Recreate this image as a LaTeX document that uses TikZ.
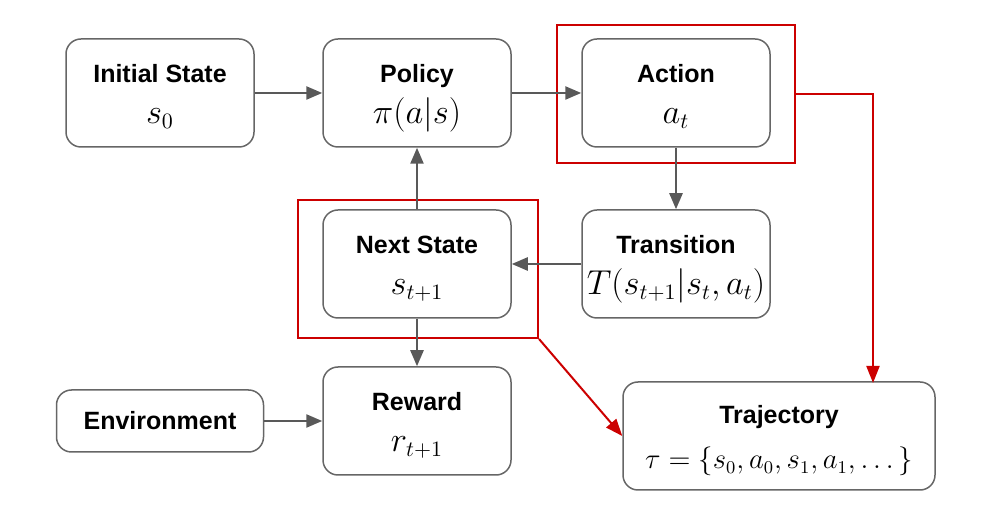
\documentclass[tikz,border=0pt]{standalone}
\usepackage[no-math]{fontspec}
\usepackage{amsmath}
\usetikzlibrary{arrows.meta,positioning}
\newfontfamily\arialfont{Liberation Sans}
\definecolor{boxgray}{HTML}{666666}
\definecolor{arrowgray}{HTML}{595959}
\definecolor{framered}{HTML}{CC0000}
\newcommand{\boxtitle}[1]{{\arialfont\bfseries\fontsize{12.5}{15}\selectfont\rule{0pt}{14pt}#1}}
\newcommand{\boxmath}[1]{{\fontsize{16}{19}\selectfont $\vphantom{()}#1$}}

\begin{document}
\begin{tikzpicture}[x=0.5pt, y=-0.5pt,
    box/.style={draw=boxgray, line width=0.75pt, rounded corners=7.5pt,
        minimum width=94pt, minimum height=54pt, align=center, inner sep=0pt,
        font=\fontsize{12.5}{20.5}\selectfont},
    graylink/.style={draw=arrowgray, line width=1.2pt,
        -{Triangle[length=8pt, width=6.5pt]}},
    redframe/.style={draw=framered, line width=1pt, minimum width=119pt,
        minimum height=69pt, inner sep=0pt},
    redlink/.style={draw=framered, line width=1pt,
        -{Triangle[length=8.5pt, width=6.5pt]}}]
    \useasboundingbox (0,0) rectangle (989,506);
    %%Top row
    \node[box] (init) at (160,93) {\boxtitle{Initial State}\\\boxmath{s_0}};
    \node[box] (policy) at (417,93) {\boxtitle{Policy}\\\boxmath{\pi(a|s)}};
    \node[box] (action) at (676,93) {\boxtitle{Action}\\\boxmath{a_t}};
    %%Middle row
    \node[box] (next) at (417,264) {\boxtitle{Next State}\\\boxmath{s_{t+1}}};
    \node[box] (trans) at (676,264) {\boxtitle{Transition}\\\boxmath{T(s_{t+1}|s_t,a_t)}};
    %%Bottom row
    \node[box, minimum width=103.5pt, minimum height=31pt] (env) at (160,421)
        {{\arialfont\bfseries Environment}};
    \node[box] (reward) at (417,421) {\boxtitle{Reward}\\\boxmath{r_{t+1}}};
    \node[box, minimum width=156pt, font=\fontsize{12.5}{22.5}\selectfont] (traj) at (779,436)
        {\boxtitle{Trajectory}\\{\fontsize{13.5}{16}\selectfont
        $\tau=\{s_0,a_0,s_1,a_1,\dots\}$}};
    %%Red frames
    \node[redframe] (actionframe) at (676,94) {};
    \node[redframe, minimum width=120pt] (nextframe) at (418,269) {};
    \coordinate (trajtop) at (873,383);
    %%Gray arrows
    \draw[graylink] (init.east) -- (policy.west);
    \draw[graylink] (policy.east) -- (action.west);
    \draw[graylink] (action.south) -- (trans.north);
    \draw[graylink] (trans.west) -- (next.east);
    \draw[graylink] (next.north) -- (policy.south);
    \draw[graylink] (next.south) -- (reward.north);
    \draw[graylink] (env.east) -- (reward.west);
    %%Red arrows
    \draw[redlink] (actionframe.east) -| (trajtop);
    \draw[redlink] (nextframe.south east) -- (traj.west);
\end{tikzpicture}
\end{document}
